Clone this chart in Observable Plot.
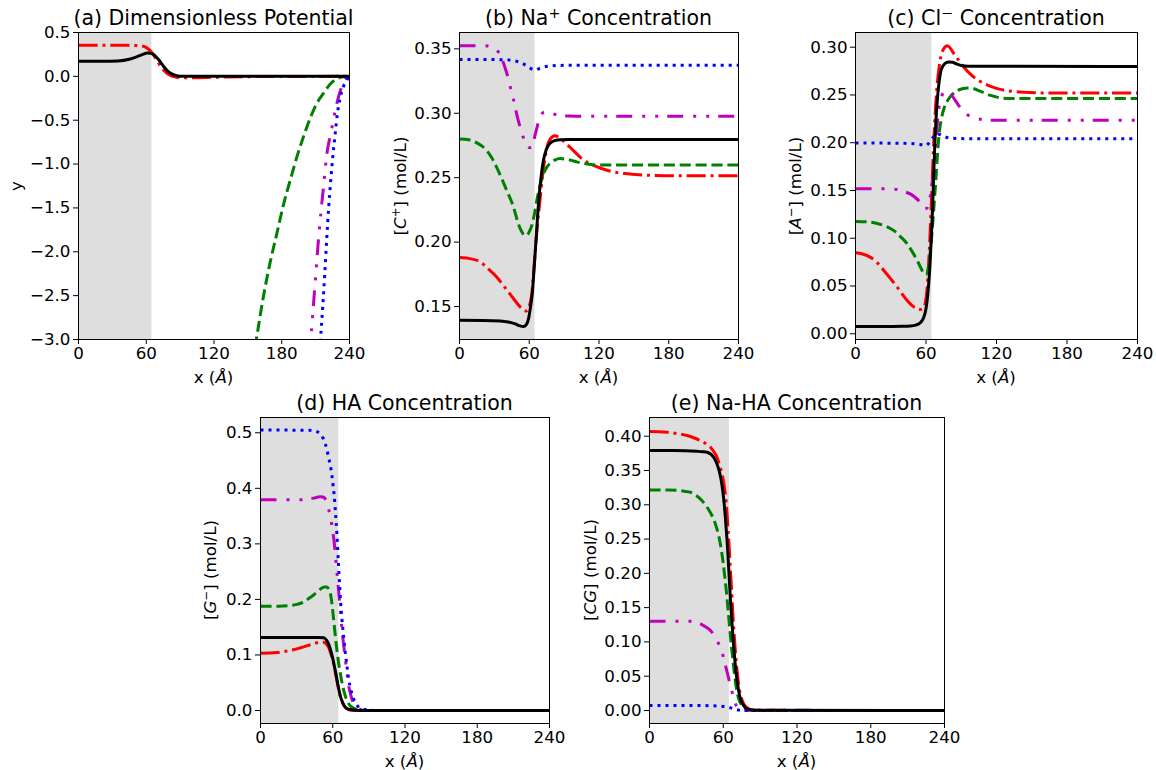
<!DOCTYPE html>
<html><head><meta charset="utf-8">
<script src="https://cdn.jsdelivr.net/npm/d3@7"></script>
<script src="https://cdn.jsdelivr.net/npm/@observablehq/plot@0.6"></script>
<style>
body{margin:0;background:#fff;}
#fig{position:relative;width:1156px;height:770px;font-family:"DejaVu Sans";overflow:hidden;background:#fff;}
#fig svg{position:absolute;left:0;top:0;}
.lab{position:absolute;white-space:nowrap;color:#000;line-height:1;}
.t{font-size:20.5px;transform:translate(-50%,-50%);}
.xl{font-size:16.7px;transform:translate(-50%,-50%);}
.yl{font-size:16.7px;transform:translate(-50%,-50%) rotate(-90deg);}
sup{font-size:70%;vertical-align:0.5em;line-height:0;}
</style></head><body><div id="fig"></div><script>
// ---------- data ----------
const xTicks = [0, 60, 120, 180, 240];
const shadeRange = [0, 65];

// (a) dimensionless potential
const aRed = [[0,0.355],[20,0.355],[40,0.354],[50,0.352],[55,0.348],[59,0.335],[62,0.31],[65,0.27],[69,0.19],[73,0.11],[77,0.05],[81,0.012],[85,-0.006],[90,-0.014],[100,-0.015],[120,-0.01],[150,-0.004],[180,-0.001],[240,0]];
const aGreen = [[152,-3.45],[157.5,-3.0],[163.9,-2.5],[169.9,-2.11],[175.7,-1.79],[181.6,-1.46],[187.5,-1.184],[193.4,-0.918],[199.2,-0.69],[205.1,-0.48],[211,-0.309],[216.9,-0.195],[222.8,-0.09],[228.7,-0.03],[234.5,-0.006],[240,0]];
const aMagenta = [[204,-3.2],[205.7,-3.0],[208.1,-2.6],[210.2,-2.247],[212,-1.944],[214.6,-1.563],[217,-1.26],[220,-0.879],[223.4,-0.651],[225.7,-0.5],[228.8,-0.309],[233.1,-0.12],[236,-0.035],[240,0]];
const aBlue = [[213.3,-3.3],[214.4,-3.0],[216.3,-2.628],[218.1,-2.247],[219.8,-1.86],[221.6,-1.488],[223.4,-1.184],[225.2,-0.918],[227.2,-0.67],[229.3,-0.423],[231.6,-0.25],[234.5,-0.12],[237.5,-0.044],[240,0]];
const aBlack = [[0,0.172],[20,0.172],[35,0.176],[45,0.195],[52,0.225],[57,0.25],[61,0.265],[64,0.262],[67,0.245],[71,0.19],[75,0.12],[79,0.06],[83,0.025],[87,0.008],[93,0.001],[100,0],[240,0]];

// (b) Na+ concentration
const bRed = [[0,0.188],[10,0.187],[18,0.1846],[25,0.179],[32,0.173],[38,0.166],[44,0.159],[50,0.152],[54,0.148],[57.5,0.1465],[60,0.15],[62.2,0.16],[65,0.191],[67,0.213],[69.4,0.234],[71.5,0.252],[73.7,0.266],[76,0.276],[78,0.28],[82,0.2825],[86,0.281],[90,0.278],[98,0.271],[105,0.265],[110,0.262],[121,0.2575],[130,0.255],[140,0.2535],[160,0.252],[190,0.2515],[240,0.2515]];
const bGreen = [[0,0.28],[8,0.2795],[15,0.277],[23.5,0.271],[28,0.265],[32,0.258],[36,0.25],[40.7,0.24],[46.4,0.2273],[50,0.216],[53,0.209],[56,0.2055],[58,0.2055],[60,0.208],[62.2,0.213],[64.5,0.222],[66.5,0.2324],[69,0.243],[72.3,0.2531],[75,0.258],[78,0.2612],[82,0.2637],[86.6,0.2648],[92,0.2643],[98,0.263],[106,0.2612],[115,0.26],[125,0.2598],[240,0.2598]];
const bMagenta = [[0,0.3525],[20,0.3525],[26,0.352],[30,0.3505],[33.5,0.3475],[37,0.341],[40.7,0.331],[43.5,0.321],[46.4,0.311],[48.5,0.302],[50.7,0.294],[53,0.2865],[55,0.281],[57.5,0.276],[59.5,0.2735],[61.5,0.2735],[63,0.276],[65,0.283],[66.5,0.2885],[68.5,0.295],[70.8,0.2995],[73,0.301],[76,0.3012],[80,0.2998],[85,0.2985],[95,0.2978],[110,0.2976],[240,0.2976]];
const bBlue = [[0,0.3418],[20,0.3418],[40,0.3415],[47,0.3408],[52,0.3395],[56,0.3378],[60,0.3355],[63,0.334],[65.5,0.3336],[68,0.3345],[72,0.3358],[77,0.3366],[84,0.3371],[100,0.3373],[240,0.3373]];
const bBlack = [[0,0.1393],[20,0.1392],[35,0.1388],[42,0.138],[48,0.1365],[52,0.135],[55,0.1345],[57.5,0.136],[59.5,0.141],[61,0.149],[62.5,0.159],[64,0.177],[65.5,0.197],[67,0.218],[68.5,0.236],[70,0.249],[72,0.2625],[74.5,0.2715],[78,0.2768],[82,0.2788],[87,0.2795],[95,0.2797],[240,0.2797]];

// (c) Cl- concentration
const cRed = [[0,0.0848],[6,0.0835],[12.8,0.08],[18,0.075],[24.1,0.0663],[30,0.0575],[35.5,0.0489],[40,0.041],[44,0.0349],[48,0.0298],[52,0.0265],[55,0.0255],[57.5,0.0265],[59.5,0.033],[61,0.048],[62.3,0.075],[63.5,0.105],[64.8,0.145],[66.2,0.19],[67.8,0.23],[69.6,0.262],[71.5,0.282],[73.8,0.295],[76,0.3],[78.1,0.3015],[81,0.2985],[83.8,0.293],[88,0.286],[92.3,0.279],[98,0.2715],[103.7,0.266],[112,0.2605],[120.7,0.2566],[132,0.254],[143.4,0.2528],[165,0.252],[240,0.252]];
const cGreen = [[0,0.1176],[10,0.1172],[18.5,0.1155],[26,0.1125],[32.7,0.108],[38,0.102],[44,0.0942],[48,0.0865],[52.5,0.0768],[56,0.068],[58.5,0.0625],[60.5,0.0625],[62.3,0.072],[63.8,0.088],[65.3,0.108],[66.7,0.132],[68.2,0.158],[69.6,0.184],[71,0.207],[73,0.2245],[75.3,0.236],[78.5,0.2445],[82.4,0.2505],[86.5,0.2545],[90.9,0.2565],[95.5,0.2572],[100.8,0.2565],[106,0.254],[115,0.2495],[123,0.247],[132,0.2462],[150,0.2462],[240,0.2462]];
const cMagenta = [[0,0.1518],[20,0.1518],[30,0.1515],[35.5,0.151],[41,0.149],[46.9,0.1462],[51,0.1425],[54,0.139],[56.5,0.135],[58.8,0.131],[60.8,0.1315],[62.3,0.1355],[63.8,0.145],[65.2,0.158],[66.5,0.1725],[67.8,0.192],[69.2,0.214],[70.7,0.2335],[72.5,0.2455],[75.3,0.2525],[78,0.2535],[81,0.251],[84,0.246],[87,0.2405],[91,0.234],[95,0.2295],[100,0.2262],[106.5,0.2245],[120,0.2235],[240,0.2235]];
const cBlue = [[0,0.1996],[20,0.1996],[40,0.1994],[50,0.199],[55,0.1982],[59.6,0.197],[62,0.199],[64,0.2024],[66.5,0.2065],[69.6,0.2094],[72,0.2085],[75.3,0.2065],[80,0.205],[86.6,0.2045],[100,0.2042],[240,0.2042]];
const cBlack = [[0,0.0077],[20,0.0077],[40,0.0078],[47,0.0082],[51,0.009],[54,0.0105],[56.5,0.0135],[58.2,0.0175],[59.8,0.025],[61,0.035],[62.2,0.051],[63.3,0.07],[64.3,0.095],[65.3,0.122],[66.3,0.157],[67.3,0.192],[68.4,0.222],[69.6,0.244],[70.9,0.261],[72.4,0.2739],[74.5,0.2805],[76.7,0.2835],[79.5,0.2845],[82.4,0.2842],[86,0.2825],[90,0.2808],[96,0.2801],[240,0.2799]];

// (d) HA concentration
const dRed = [[0,0.1032],[13.6,0.1045],[22,0.107],[30.2,0.111],[37,0.1155],[44,0.12],[48.5,0.1225],[52.4,0.123],[54.5,0.12],[56.5,0.114],[58.3,0.103],[60.1,0.09],[61.5,0.075],[62.9,0.06],[64.5,0.042],[66.2,0.026],[68.3,0.013],[70.4,0.0054],[73,0.0018],[75.9,0.0006],[82,0],[240,0]];
const dGreen = [[0,0.1879],[15,0.1879],[24.7,0.189],[30,0.191],[35.7,0.195],[40,0.2015],[44,0.208],[48,0.2155],[51,0.2205],[53,0.2225],[55.1,0.2225],[56.6,0.219],[57.9,0.212],[59,0.198],[60.1,0.177],[61.1,0.156],[62.1,0.135],[63.4,0.11],[64.8,0.087],[66.2,0.068],[67.6,0.051],[69.6,0.032],[71.8,0.018],[74.5,0.0085],[77.3,0.0042],[82,0.001],[90,0.0001],[240,0]];
const dMagenta = [[0,0.3793],[20,0.3793],[35.7,0.3795],[40,0.3808],[44,0.3823],[47,0.3838],[49.6,0.385],[51.8,0.3845],[53.8,0.381],[55.2,0.374],[56.5,0.363],[58,0.349],[59.3,0.333],[60.3,0.318],[61.2,0.303],[62.3,0.277],[63.5,0.249],[64.6,0.222],[65.7,0.195],[66.6,0.171],[67.6,0.147],[69,0.119],[70.4,0.093],[71.8,0.068],[73.2,0.045],[75.2,0.026],[77.3,0.012],[80,0.0045],[82.9,0.002],[88,0.0005],[95,0],[240,0]];
const dBlue = [[0,0.5048],[20,0.5048],[40,0.5045],[44,0.504],[47,0.502],[49.6,0.498],[51.8,0.491],[53.8,0.48],[55.2,0.469],[56.5,0.456],[58,0.441],[59.3,0.423],[60.3,0.405],[61.2,0.387],[62.3,0.355],[63.5,0.315],[64.6,0.27],[65.7,0.225],[66.6,0.193],[67.6,0.165],[69,0.134],[70.4,0.105],[71.8,0.08],[73.2,0.057],[75.2,0.036],[77.3,0.021],[79.4,0.012],[81.5,0.006],[84.5,0.003],[88.4,0.0012],[95,0.0002],[240,0]];
const dBlack = [[0,0.1314],[20,0.1314],[40,0.1314],[48,0.1313],[52.4,0.1308],[54.5,0.1275],[56.5,0.12],[58.3,0.108],[60.1,0.093],[61.5,0.078],[62.9,0.063],[64.5,0.044],[66.2,0.027],[68.3,0.014],[70.4,0.006],[73,0.0025],[75.9,0.0012],[82,0.0002],[240,0]];

// (e) Na-HA concentration
const eRed = [[0,0.4068],[7,0.4065],[14.4,0.4058],[22,0.404],[30.6,0.401],[36,0.3978],[41.4,0.3937],[46,0.389],[49.6,0.384],[52.5,0.377],[55,0.369],[57,0.358],[59,0.345],[60.5,0.331],[61.8,0.3135],[62.9,0.292],[63.9,0.265],[64.9,0.236],[65.8,0.2066],[66.8,0.175],[67.7,0.1434],[68.8,0.113],[69.9,0.085],[71.2,0.059],[72.6,0.0365],[74.5,0.02],[76.7,0.0097],[79.3,0.004],[82,0.0015],[88,0.0002],[240,0]];
const eGreen = [[0,0.3217],[15,0.3215],[22.5,0.321],[28,0.3198],[33.3,0.3183],[38,0.3135],[42.8,0.306],[47,0.296],[50.9,0.284],[53.8,0.271],[56.3,0.255],[58.2,0.237],[59.9,0.216],[61.3,0.194],[62.6,0.1725],[64,0.145],[65.3,0.119],[66.6,0.094],[68,0.0705],[69.6,0.046],[71.2,0.0267],[73.2,0.014],[75.3,0.0073],[78,0.003],[80.7,0.001],[88,0.0001],[240,0]];
const eMagenta = [[0,0.1302],[20,0.1302],[33.3,0.13],[37.5,0.1287],[41.4,0.1264],[45.5,0.1222],[49.6,0.1166],[52.5,0.11],[55,0.102],[57,0.094],[59,0.085],[60.5,0.0755],[61.8,0.0656],[63.2,0.0555],[64.5,0.046],[65.9,0.036],[67.2,0.0267],[68.5,0.0175],[69.9,0.0097],[72,0.004],[74,0.0015],[78,0.0003],[240,0]];
const eBlue = [[0,0.0073],[20,0.0073],[40,0.0072],[50,0.0069],[57.7,0.0064],[61,0.0058],[64.5,0.0049],[67,0.0032],[69.9,0.0015],[73,0.0005],[76.7,0],[240,0]];
const eBlack = [[0,0.3791],[20,0.3791],[38.7,0.378],[43,0.3775],[46.9,0.3767],[50,0.3735],[52.3,0.369],[54.3,0.362],[56.3,0.352],[57.8,0.341],[59,0.328],[60.5,0.306],[61.8,0.2795],[62.8,0.255],[63.7,0.231],[64.8,0.196],[65.8,0.163],[66.9,0.133],[68,0.1045],[69.3,0.076],[70.7,0.051],[72.3,0.031],[74,0.017],[76.5,0.0075],[79.4,0.0024],[85,0.0004],[240,0]];

const aYTicks = [0.5, 0, -0.5, -1, -1.5, -2, -2.5, -3];
const bYTicks = [0.15, 0.2, 0.25, 0.3, 0.35];
const cYTicks = [0, 0.05, 0.1, 0.15, 0.2, 0.25, 0.3];
const dYTicks = [0, 0.1, 0.2, 0.3, 0.4, 0.5];
const eYTicks = [0, 0.05, 0.1, 0.15, 0.2, 0.25, 0.3, 0.35, 0.4];

// ---------- styles ----------
const styles = {
  red:     {stroke: "#ff0000", dash: "19.2,4.8,3,4.8"},
  green:   {stroke: "#008000", dash: "11.1,4.8"},
  magenta: {stroke: "#bf00bf", dash: "16,10,3,10,3,9"},
  blue:    {stroke: "#0000ff", dash: "3,5"},
  black:   {stroke: "#000000", dash: null}
};

const W = 1156, H = 770;
const panels = [
  {frame:[78,349,32,339], y:[-3.0,0.5], ticks:aYTicks, fmt:".1f",
   series:[["red",aRed],["green",aGreen],["magenta",aMagenta],["blue",aBlue],["black",aBlack]],
   title:"(a) Dimensionless Potential", ylab:"y", ylx:16},
  {frame:[459,738,32,339], y:[0.1244,0.3627], ticks:bYTicks, fmt:".2f",
   series:[["red",bRed],["green",bGreen],["magenta",bMagenta],["blue",bBlue],["black",bBlack]],
   title:"(b) Na<sup>+</sup> Concentration", ylab:"[<i>C</i><sup>+</sup>] (mol/L)", ylx:400},
  {frame:[855,1137,32,339], y:[-0.006,0.3154], ticks:cYTicks, fmt:".2f",
   series:[["red",cRed],["green",cGreen],["magenta",cMagenta],["blue",cBlue],["black",cBlack]],
   title:"(c) Cl<sup>\u2212</sup> Concentration", ylab:"[<i>A</i><sup>\u2212</sup>] (mol/L)", ylx:795},
  {frame:[260,549,417,723], y:[-0.0234,0.5275], ticks:dYTicks, fmt:".1f",
   series:[["red",dRed],["green",dGreen],["magenta",dMagenta],["blue",dBlue],["black",dBlack]],
   title:"(d) HA Concentration", ylab:"[<i>G</i><sup>\u2212</sup>] (mol/L)", ylx:210},
  {frame:[649,944,417,723], y:[-0.019,0.4273], ticks:eYTicks, fmt:".2f",
   series:[["red",eRed],["green",eGreen],["magenta",eMagenta],["blue",eBlue],["black",eBlack]],
   title:"(e) Na-HA Concentration", ylab:"[<i>CG</i>] (mol/L)", ylx:590}
];

const fig = document.getElementById("fig");
function addLabel(cls, html, x, y) {
  const d = document.createElement("div");
  d.className = "lab " + cls;
  d.innerHTML = html;
  d.style.left = x + "px";
  d.style.top = y + "px";
  fig.appendChild(d);
}

for (const p of panels) {
  const [L, R, T, B] = p.frame;
  const lines = p.series.map(([name, data]) => Plot.line(data, {
    x: d => d[0], y: d => d[1],
    stroke: styles[name].stroke, strokeWidth: 3,
    strokeDasharray: styles[name].dash, strokeLinecap: "butt", strokeLinejoin: "round",
    curve: "monotone-x", clip: true
  }));
  const svg = Plot.plot({
    width: W, height: H,
    marginLeft: L, marginRight: W - R, marginTop: T, marginBottom: H - B,
    x: {domain: [0, 240]},
    y: {domain: p.y},
    style: {fontFamily: "DejaVu Sans", fontSize: "16.7px", background: "transparent", color: "#000"},
    marks: [
      Plot.rect([shadeRange], {x1: d => d[0], x2: d => d[1], fill: "#dedede"}),
      ...lines,
      Plot.frame({stroke: "#000", strokeWidth: 1}),
      Plot.axisX({ticks: xTicks, tickFormat: d => String(d), label: null, tickSize: 5, tickPadding: 3, fontSize: 16.7}),
      Plot.axisY({ticks: p.ticks, tickFormat: d3.format(p.fmt), label: null, tickSize: 5, tickPadding: 3, fontSize: 16.7})
    ]
  });
  fig.appendChild(svg);
  const cx = (L + R) / 2, cy = (T + B) / 2;
  addLabel("t", p.title, cx, T - 14);
  addLabel("xl", "x (<i>\u00c5</i>)", cx, B + 38);
  addLabel("yl", p.ylab, p.ylx, cy);
}
</script></body></html>
